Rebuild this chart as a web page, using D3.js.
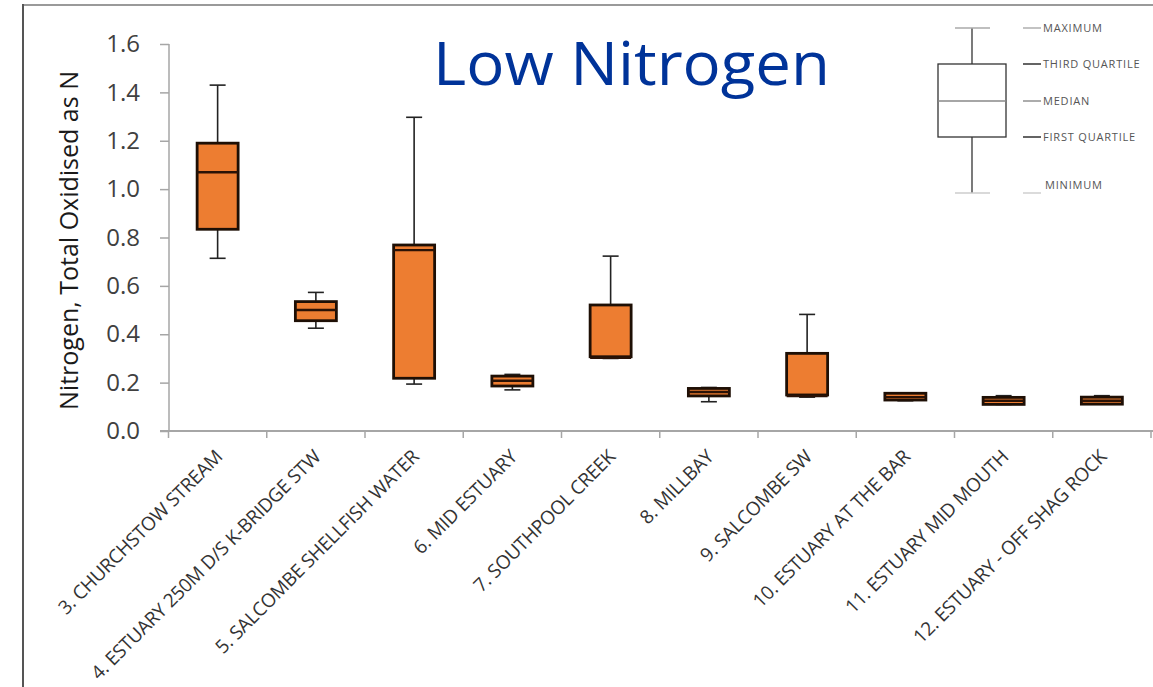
<!DOCTYPE html>
<html>
<head>
<meta charset="utf-8">
<script src="https://cdn.jsdelivr.net/npm/d3@7"></script>
<style>
  html, body { margin: 0; padding: 0; background: #fff; }
  svg { display: block; }
  text { font-family: "Open Sans", "DejaVu Sans", sans-serif; }
</style>
</head>
<body>
<svg id="chart" width="1153" height="687"></svg>
<script>
// ---- data ----
const categories = [
  "3. CHURCHSTOW STREAM",
  "4. ESTUARY 250M D/S K-BRIDGE STW",
  "5. SALCOMBE SHELLFISH WATER",
  "6. MID ESTUARY",
  "7. SOUTHPOOL CREEK",
  "8. MILLBAY",
  "9. SALCOMBE SW",
  "10. ESTUARY AT THE BAR",
  "11. ESTUARY MID MOUTH",
  "12. ESTUARY - OFF SHAG ROCK"
];
const minimum  = [0.714, 0.425, 0.194, 0.170, 0.300, 0.121, 0.140, 0.125, 0.110, 0.111];
const quartile1 = [0.834, 0.456, 0.218, 0.186, 0.307, 0.145, 0.149, 0.128, 0.110, 0.111];
const median   = [1.070, 0.500, 0.748, 0.208, 0.303, 0.161, 0.145, 0.140, 0.125, 0.125];
const quartile3 = [1.190, 0.535, 0.769, 0.227, 0.521, 0.176, 0.321, 0.156, 0.139, 0.140];
const maximum  = [1.430, 0.573, 1.297, 0.234, 0.723, 0.180, 0.482, 0.157, 0.146, 0.146];
const yTicks = [0, 0.2, 0.4, 0.6, 0.8, 1.0, 1.2, 1.4, 1.6];
const legendLabels = ["MAXIMUM", "THIRD QUARTILE", "MEDIAN", "FIRST QUARTILE", "MINIMUM"];
const titleText = "Low Nitrogen";
const yLabel = "Nitrogen, Total Oxidised as N";

const svg = d3.select("#chart");

// frame lines
svg.append("line").attr("x1", 23).attr("x2", 1153).attr("y1", 5).attr("y2", 5)
  .attr("stroke", "#9a9a9a").attr("stroke-width", 2);
svg.append("line").attr("x1", 23).attr("x2", 23).attr("y1", 4).attr("y2", 687)
  .attr("stroke", "#555").attr("stroke-width", 2);

const x = d3.scaleBand().domain(categories).range([168.5, 1151]).paddingInner(0).paddingOuter(0);
const y = d3.scaleLinear().domain([0, 1.6]).range([431, 44]);

// y axis
const yAxis = svg.append("g").attr("transform", "translate(169,0)")
  .call(d3.axisLeft(y).tickValues(yTicks).tickFormat(d3.format(".1f")).tickSize(9).tickPadding(20));
yAxis.selectAll("path, line").attr("stroke", "#a6a6a6").attr("stroke-width", 1.5);
yAxis.select(".domain").attr("d", `M0,${y(1.6)}V${y(0)}`);
yAxis.selectAll("text").attr("font-size", 24).attr("fill", "#404040")
  .style("font-family", "'Open Sans', sans-serif");

// x axis
const xAxisG = svg.append("g").attr("transform", `translate(0,${y(0)})`);
xAxisG.append("line").attr("x1", 160).attr("x2", 1153).attr("y1", 0).attr("y2", 0)
  .attr("stroke", "#a6a6a6").attr("stroke-width", 2);
const edges = categories.map(c => x(c)).concat([x(categories[categories.length - 1]) + x.bandwidth()]);
xAxisG.selectAll("line.tick").data(edges).enter().append("line").attr("class", "tick")
  .attr("x1", d => d).attr("x2", d => d).attr("y1", 0).attr("y2", 7)
  .attr("stroke", "#a6a6a6").attr("stroke-width", 1.5);

// x labels
svg.append("g").selectAll("text").data(categories).enter().append("text")
  .attr("transform", d => `translate(${x(d) + x.bandwidth() / 2 + 6},${y(0) + 27}) rotate(-45)`)
  .attr("text-anchor", "end")
  .attr("font-size", 19)
  .attr("letter-spacing", -0.3)
  .attr("fill", "#333")
  .text(d => d);

// y label
svg.append("text")
  .attr("transform", `translate(78,${(y(0) + y(1.6)) / 2 + 3}) rotate(-90)`)
  .attr("text-anchor", "middle")
  .attr("font-size", 25)
  .attr("fill", "#1a1a1a")
  .text(yLabel);

// title
svg.append("text").attr("x", 433).attr("y", 85)
  .attr("font-size", 60).attr("fill", "#003399")
  .attr("textLength", 397).attr("lengthAdjust", "spacingAndGlyphs")
  .text(titleText);

// boxes
const boxW = 41, capW = 16;
const rows = categories.map((c, i) => ({
  c, min: minimum[i], q1: quartile1[i], med: median[i], q3: quartile3[i], max: maximum[i]
}));
const g = svg.append("g");
const bx = g.selectAll("g.box").data(rows).enter().append("g").attr("class", "box")
  .attr("transform", d => `translate(${x(d.c) + x.bandwidth() / 2},0)`);
// whiskers
bx.append("line").attr("x1", 0).attr("x2", 0).attr("y1", d => y(d.max)).attr("y2", d => y(d.q3))
  .attr("stroke", "#222").attr("stroke-width", 1.6);
bx.append("line").attr("x1", 0).attr("x2", 0).attr("y1", d => y(d.q1)).attr("y2", d => y(d.min))
  .attr("stroke", "#222").attr("stroke-width", 1.6);
bx.append("line").attr("x1", -capW / 2).attr("x2", capW / 2).attr("y1", d => y(d.max)).attr("y2", d => y(d.max))
  .attr("stroke", "#222").attr("stroke-width", 1.6);
bx.append("line").attr("x1", -capW / 2).attr("x2", capW / 2).attr("y1", d => y(d.min)).attr("y2", d => y(d.min))
  .attr("stroke", "#222").attr("stroke-width", 1.6);
// box
bx.append("rect").attr("x", -boxW / 2).attr("width", boxW)
  .attr("y", d => y(d.q3)).attr("height", d => Math.max(y(d.q1) - y(d.q3), 3))
  .attr("fill", "#ED7D31").attr("stroke", "#1e0f05").attr("stroke-width", 2.8);
bx.append("line").attr("x1", -boxW / 2).attr("x2", boxW / 2)
  .attr("y1", d => y(d.med)).attr("y2", d => y(d.med))
  .attr("stroke", "#2a1206").attr("stroke-width", 2.4);

// legend (schematic box)
const lg = svg.append("g");
const lx = 972, lw = 68;
const ly = [28, 64, 101, 137, 193];   // max, q3, median, q1, min (legend positions)
const labelY = [28, 64, 101, 137, 185];
lg.append("line").attr("x1", lx).attr("x2", lx).attr("y1", ly[0]).attr("y2", ly[4]).attr("stroke", "#333").attr("stroke-width", 1.3);
lg.append("line").attr("x1", lx - 17).attr("x2", lx + 18).attr("y1", ly[0]).attr("y2", ly[0]).attr("stroke", "#aaa").attr("stroke-width", 1.3);
lg.append("line").attr("x1", lx - 17).attr("x2", lx + 18).attr("y1", ly[4]).attr("y2", ly[4]).attr("stroke", "#ccc").attr("stroke-width", 1.3);
lg.append("rect").attr("x", lx - lw / 2).attr("y", ly[1]).attr("width", lw).attr("height", ly[3] - ly[1])
  .attr("fill", "#fff").attr("stroke", "#333").attr("stroke-width", 1.3);
lg.append("line").attr("x1", lx - lw / 2).attr("x2", lx + lw / 2).attr("y1", ly[2]).attr("y2", ly[2]).attr("stroke", "#888").attr("stroke-width", 1.6);
const dashCol = ["#aaa", "#222", "#888", "#222", "#ccc"];
legendLabels.forEach((t, i) => {
  lg.append("line").attr("x1", 1023).attr("x2", 1041).attr("y1", i === 4 ? ly[4] : labelY[i]).attr("y2", i === 4 ? ly[4] : labelY[i])
    .attr("stroke", dashCol[i]).attr("stroke-width", 1.4);
  lg.append("text").attr("x", i === 4 ? 1045 : 1043).attr("y", labelY[i] + 4)
    .attr("font-size", 11).attr("letter-spacing", 0.8).attr("fill", "#555").text(t);
});
</script>
</body>
</html>
